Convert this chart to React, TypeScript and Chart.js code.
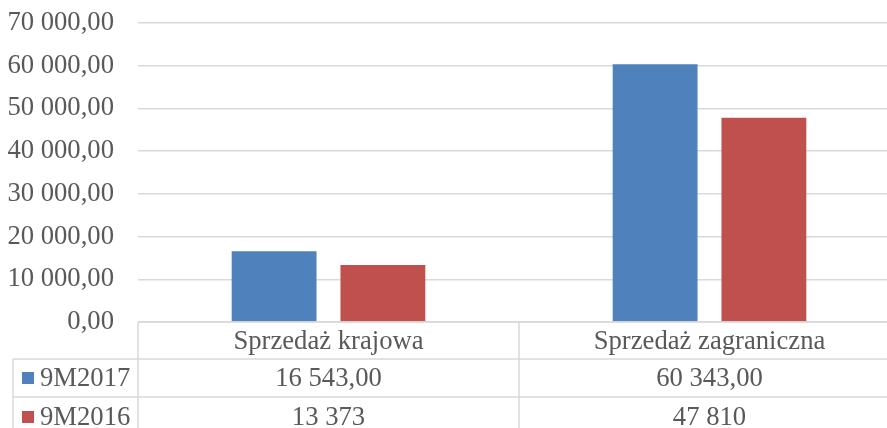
import React, { useEffect, useRef } from "react";
import { Chart, registerables } from "chart.js";

Chart.register(...registerables);

const categories = ["Sprzedaż krajowa", "Sprzedaż zagraniczna"];
const seriesNames = ["9M2017", "9M2016"];
const values2017 = [16543, 60343];
const values2016 = [13373, 47810];
const tableLabels2017 = ["16 543,00", "60 343,00"];
const tableLabels2016 = ["13 373", "47 810"];
const colors = ["#4F81BD", "#C0504D"];

const FONT = "'Liberation Serif', 'Times New Roman', serif";
const FONT_SIZE = 26.67;
const TEXT = "#595959";
const GRID = "#d9d9d9";

function fmt(v: number): string {
  const s = Math.round(v).toString().replace(/\B(?=(\d{3})+(?!\d))/g, " ");
  return s + ",00";
}

const tablePlugin = {
  id: "dataTable",
  afterDraw(chart: any) {
    const ctx = chart.ctx;
    const area = chart.chartArea;
    const xs = chart.scales.x;
    const left = 13;
    const top = area.bottom;
    const row1 = 359;
    const row2 = 397;
    const bottom = chart.height + 20;
    const right = chart.width;
    const mid = (xs.getPixelForValue(0) + xs.getPixelForValue(1)) / 2;
    ctx.save();
    ctx.strokeStyle = GRID;
    ctx.lineWidth = 1.5;
    ctx.beginPath();
    ctx.moveTo(area.left, top);
    ctx.lineTo(right, top);
    ctx.moveTo(left, row1);
    ctx.lineTo(right, row1);
    ctx.moveTo(left, row2);
    ctx.lineTo(right, row2);
    ctx.moveTo(left, row1);
    ctx.lineTo(left, bottom);
    ctx.moveTo(area.left, top);
    ctx.lineTo(area.left, bottom);
    ctx.moveTo(mid, top);
    ctx.lineTo(mid, bottom);
    ctx.stroke();

    ctx.fillStyle = TEXT;
    ctx.font = `${FONT_SIZE}px ${FONT}`;
    ctx.textBaseline = "middle";
    ctx.textAlign = "center";
    const c0 = (top + row1) / 2;
    const c1 = (row1 + row2) / 2;
    const c2 = row2 + 20;
    categories.forEach((c, i) => {
      const x = xs.getPixelForValue(i);
      ctx.fillText(c, x, c0 + 1);
      ctx.fillText(tableLabels2017[i], x, c1 + 1);
      ctx.fillText(tableLabels2016[i], x, c2 + 1);
    });
    ctx.textAlign = "left";
    [c1, c2].forEach((cy, i) => {
      ctx.fillStyle = colors[i];
      ctx.fillRect(22, cy - 6, 12, 12);
      ctx.fillStyle = TEXT;
      ctx.fillText(seriesNames[i], 40, cy + 1);
    });
    ctx.restore();
  },
};

export default function App() {
  const ref = useRef<HTMLCanvasElement>(null);
  useEffect(() => {
    const chart = new Chart(ref.current!, {
      type: "bar",
      data: {
        labels: categories,
        datasets: [
          { label: seriesNames[0], data: values2017, backgroundColor: colors[0] },
          { label: seriesNames[1], data: values2016, backgroundColor: colors[1] },
        ],
      },
      options: {
        animation: false,
        responsive: false,
        layout: { padding: { top: 23, bottom: 106, left: 0, right: 0 } },
        datasets: { bar: { categoryPercentage: 0.571, barPercentage: 0.78 } },
        plugins: { legend: { display: false }, tooltip: { enabled: false } },
        scales: {
          x: { display: false, offset: true },
          y: {
            min: 0,
            max: 70000,
            border: { display: false },
            grid: { color: GRID, lineWidth: 1.5, drawTicks: false },
            afterFit: (s: any) => {
              s.width = 138;
              s.paddingTop = 0;
              s.paddingBottom = 0;
            },
            ticks: {
              stepSize: 10000,
              padding: 24,
              color: TEXT,
              font: { family: FONT, size: FONT_SIZE },
              callback: (v: any) => fmt(Number(v)),
            },
          },
        },
      },
      plugins: [tablePlugin],
    });
    return () => chart.destroy();
  }, []);
  return (
    <div style={{ position: "fixed", left: 0, top: 0, width: 887, height: 428, overflow: "hidden", background: "#fff" }}>
      <canvas ref={ref} width={900} height={428} style={{ display: "block" }} />
    </div>
  );
}
